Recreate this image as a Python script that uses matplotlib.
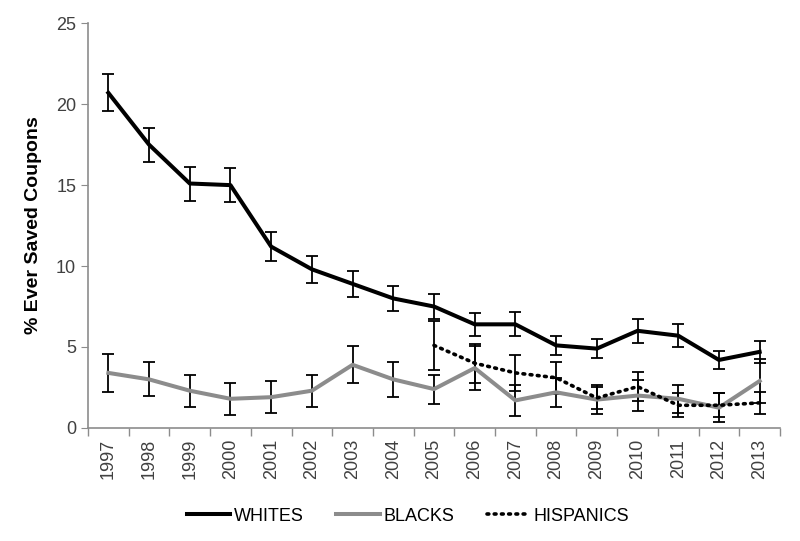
import numpy as np
import matplotlib.pyplot as plt

plt.rcParams['font.family'] = ['Liberation Sans', 'DejaVu Sans']

# --- Data ---
years = [str(y) for y in range(1997, 2014)]

whites = [20.7, 17.5, 15.1, 15.0, 11.2, 9.8, 8.9, 8.0, 7.5, 6.4, 6.4, 5.1, 4.9, 6.0, 5.7, 4.2, 4.7]
whites_err = [1.15, 1.05, 1.05, 1.05, 0.9, 0.85, 0.8, 0.75, 0.75, 0.7, 0.75, 0.6, 0.6, 0.75, 0.7, 0.55, 0.7]

blacks = [3.4, 3.0, 2.3, 1.8, 1.9, 2.3, 3.9, 3.0, 2.4, 3.7, 1.7, 2.2, 1.75, 2.0, 1.8, 1.25, 2.9]
blacks_err = [1.15, 1.05, 1.0, 1.0, 1.0, 1.0, 1.15, 1.1, 0.9, 1.35, 0.95, 0.9, 0.9, 0.95, 0.85, 0.9, 1.35]

hispanics = [np.nan] * 8 + [5.1, 4.0, 3.4, 3.1, 1.85, 2.55, 1.4, 1.4, 1.55]
hispanics_err = [np.nan] * 8 + [1.5, 1.2, 1.1, 1.0, 0.7, 0.9, 0.75, 0.75, 0.7]

GRAY = '#8c8c8c'
TEXT = '#404040'

fig = plt.figure(figsize=(8, 5.41), dpi=100)
ax = fig.add_axes([0.11, 0.209, 0.865, 0.748])

x = np.arange(len(years))
err_kw = dict(fmt='none', ecolor='black', elinewidth=1.3, capsize=4, capthick=1.3)

ax.errorbar(x, whites, yerr=whites_err, **err_kw, zorder=3)
ax.errorbar(x, blacks, yerr=blacks_err, **err_kw, zorder=3)
ax.errorbar(x, hispanics, yerr=hispanics_err, **err_kw, zorder=3)

ax.plot(x, whites, color='black', lw=2.9, label='WHITES', zorder=4)
ax.plot(x, blacks, color=GRAY, lw=2.9, label='BLACKS', zorder=4)
ax.plot(x, hispanics, color='black', lw=2.6, ls=(0, (0.5, 1.5)), dash_capstyle='round',
        label='HISPANICS', zorder=4)

ax.set_xlim(-0.5, len(years) - 0.5)
ax.set_ylim(0, 25)
ax.set_yticks(range(0, 26, 5))

ax.set_xticks(x)
ax.set_xticklabels(years, rotation=90, fontsize=13, color=TEXT)
ax.set_xticks(np.arange(-0.5, len(years), 1), minor=True)
ax.tick_params(axis='x', which='major', length=0, pad=8)
ax.tick_params(axis='x', which='minor', length=6, color=GRAY, width=1)
ax.tick_params(axis='y', length=5, color=GRAY, labelsize=13, labelcolor=TEXT)

for side in ['top', 'right']:
    ax.spines[side].set_visible(False)
for side in ['left', 'bottom']:
    ax.spines[side].set_color(GRAY)
    ax.spines[side].set_linewidth(1.2)

ax.set_ylabel('% Ever Saved Coupons', fontsize=14, fontweight='bold', labelpad=10)

fig.legend(loc='lower center', bbox_to_anchor=(0.51, 0.0), ncol=3, frameon=False,
           fontsize=13, handlelength=2.4, columnspacing=1.8, handletextpad=0.2)

fig.savefig('out.png', dpi=100)
